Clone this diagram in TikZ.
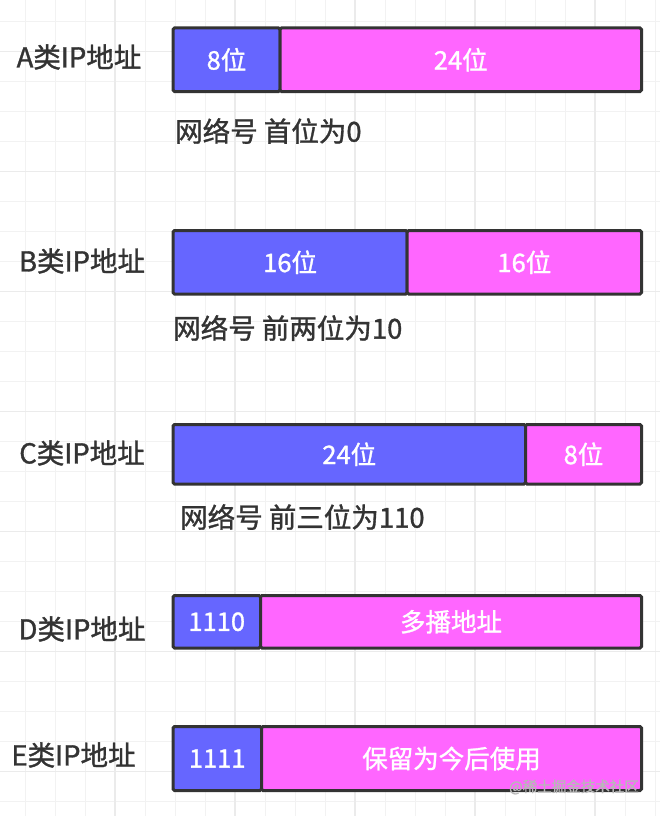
\documentclass[tikz,border=0pt]{standalone}
\usepackage{fontspec}
\setmainfont{Noto Sans CJK SC}[FakeBold=1.2]
\begin{document}
\begin{tikzpicture}[x=1pt,y=-1pt,
  seg/.style={draw=segborder,line width=3pt,rounded corners=1.5pt,inner sep=0pt,anchor=north west,text=white,font=\fontsize{25.5}{25.5}\selectfont},
  net/.style={seg,fill=netblue},
  host/.style={seg,fill=hostpink},
  cls/.style={text=labelgray,font=\fontsize{27.5}{27.5}\selectfont,inner sep=0pt},
  note/.style={text=labelgray,font=\fontsize{27.5}{27.5}\selectfont,inner sep=0pt,anchor=west},
  gridminor/.style={draw=gridc,line width=1pt},
  gridmajor/.style={draw=gridm,line width=1.2pt}]
\definecolor{netblue}{HTML}{6666FF}
\definecolor{hostpink}{HTML}{FF66FF}
\definecolor{segborder}{HTML}{333333}
\definecolor{labelgray}{HTML}{333333}
\definecolor{gridc}{HTML}{F2F2F2}
\definecolor{gridm}{HTML}{EBEBEB}
\definecolor{wmgray}{HTML}{B8B8B8}
\useasboundingbox (0,0) rectangle (660,816);
\fill[white] (0,0) rectangle (660,816);
% grid
\foreach \k in {0,...,21} {\draw[gridminor] (25+30*\k,0) -- (25+30*\k,816);}
\foreach \k in {0,...,26} {\draw[gridminor] (0,21.7+30*\k) -- (660,21.7+30*\k);}
\foreach \k in {0,...,4} {\draw[gridmajor] (115+120*\k,0) -- (115+120*\k,816);}
\foreach \k in {0,...,6} {\draw[gridmajor] (0,51.7+120*\k) -- (660,51.7+120*\k);}
% A
\node[cls] (la) at (79,57) {A类IP地址};
\node[net,minimum width=107pt,minimum height=63.5pt] (a1) at (171.5,26.5) {8位};
\node[host,minimum width=361.5pt,minimum height=63.5pt] (a2) at (278.5,26.5) {24位};
\node[note] (na) at (175,131) {网络号 首位为0};
% B
\node[cls] (lb) at (82,261) {B类IP地址};
\node[net,minimum width=234.2pt,minimum height=63.5pt] (b1) at (171.5,229) {16位};
\node[host,minimum width=234.3pt,minimum height=63.5pt] (b2) at (405.7,229) {16位};
\node[note] (nb) at (173,328) {网络号 前两位为10};
% C
\node[cls] (lc) at (82,453) {C类IP地址};
\node[net,minimum width=352.5pt,minimum height=59.5pt] (c1) at (171.5,423) {24位};
\node[host,minimum width=116pt,minimum height=59.5pt] (c2) at (524,423) {8位};
\node[note] (nc) at (180,517) {网络号 前三位为110};
% D
\node[cls] (ld) at (82,629) {D类IP地址};
\node[net,minimum width=87.5pt,minimum height=52.5pt] (d1) at (171.5,594) {1110};
\node[host,minimum width=381pt,minimum height=52.5pt] (d2) at (259,594) {多播地址};
% E
\node[cls] (le) at (73.5,755) {E类IP地址};
\node[net,minimum width=88.5pt,minimum height=64pt] (e1) at (171.5,725) {1111};
\node[host,minimum width=380pt,minimum height=64pt] (e2) at (260,725) {保留为今后使用};
% watermark
\node[text=wmgray,font=\fontsize{14.5}{14.5}\selectfont,inner sep=0pt,anchor=east] (wm) at (639,787) {@稀土掘金技术社区};
\end{tikzpicture}
\end{document}
